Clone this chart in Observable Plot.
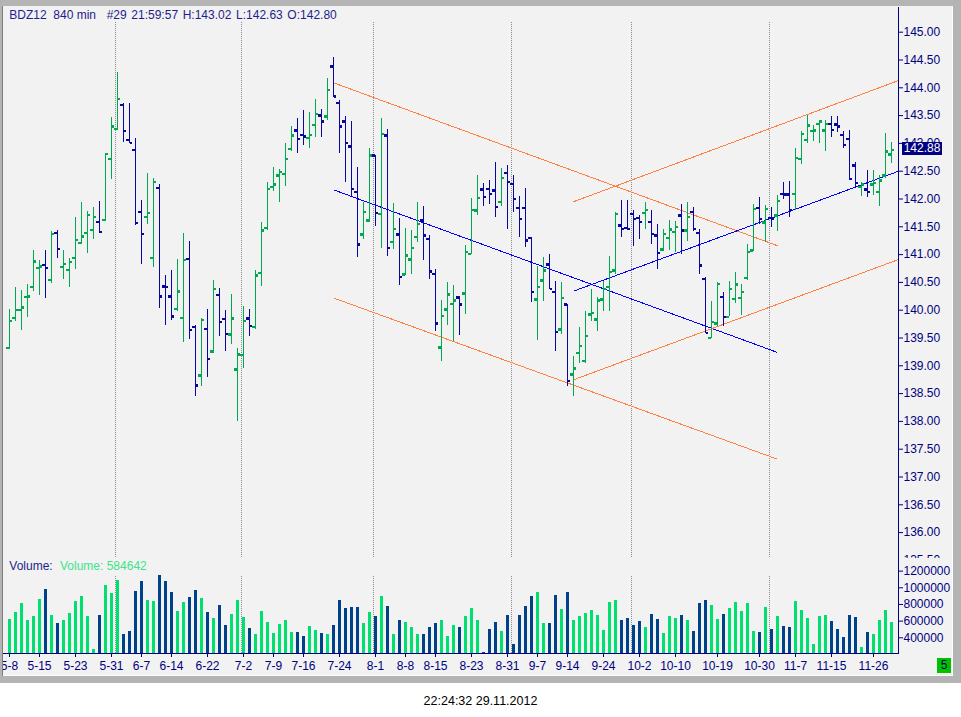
<!DOCTYPE html>
<html><head><meta charset="utf-8">
<script src="https://cdn.jsdelivr.net/npm/d3@7"></script>
<script src="https://cdn.jsdelivr.net/npm/@observablehq/plot@0.6"></script>
<style>
body{margin:0;width:961px;height:717px;background:#fff;position:relative;overflow:hidden;font-family:"Liberation Sans",Arial,sans-serif;}
#win{position:absolute;left:0;top:0;width:961px;height:683px;background:#b4b4b4;}
#edge{position:absolute;left:2px;top:6px;width:1px;height:670px;background:#7c7c7c;}
#area{position:absolute;left:3px;top:6px;width:949px;height:669px;background:#f2f2f2;overflow:hidden;border-right:1px solid #fdfdfd;border-bottom:1px solid #fdfdfd;}
#area svg{position:absolute;max-width:none !important;}
#last{position:absolute;width:40px;height:13px;background:#000080;color:#fff;font-size:12px;line-height:13px;text-align:center;}
#bars5{position:absolute;left:934px;top:652px;width:14px;height:15px;background:#00c000;color:#000050;font-size:12px;line-height:15px;text-align:center;}
#overlay{position:absolute;left:0;top:0;pointer-events:none;}
</style></head>
<body>
<div id="win"></div><div id="edge"></div>
<div id="area"></div>
<svg id="overlay" width="961" height="717" font-family="Liberation Sans, Arial, sans-serif" font-size="12"></svg>
<script>
// ---- data ----
const symbol = "BDZ12";
const period = "840 min";
const info = "#29 21:59:57 H:143.02 L:142.63 O:142.80";
const stamp = "22:24:32 29.11.2012";
const open  = [139.32,139.86,140.00,140.24,140.42,140.76,140.81,140.54,141.39,140.78,140.72,140.94,141.21,141.39,141.44,141.59,141.62,142.72,143.26,143.69,143.06,142.88,141.77,141.68,140.94,142.20,140.43,140.25,140.02,139.86,140.92,139.70,138.83,139.66,139.26,140.27,139.84,139.56,138.93,139.19,139.85,139.70,140.67,141.48,142.22,142.42,142.45,142.90,143.23,143.15,143.10,143.33,143.50,143.48,144.38,143.73,143.39,142.94,142.13,141.36,141.61,142.78,141.73,143.14,141.23,141.36,140.64,140.91,141.32,141.61,141.28,140.65,139.33,140.01,140.11,140.23,140.30,141.01,141.79,142.17,142.18,142.15,141.95,142.47,142.27,141.84,141.84,141.30,140.19,140.53,140.82,140.33,139.65,140.10,138.84,139.23,139.09,139.92,139.83,140.19,140.42,140.71,141.52,141.48,141.73,141.66,141.75,141.59,141.34,141.09,141.30,141.41,141.70,141.43,141.77,141.39,140.56,139.50,139.76,140.24,139.88,140.20,140.22,140.58,141.07,141.84,141.58,141.66,141.70,142.09,142.08,142.09,142.72,143.06,143.22,143.35,143.23,143.35,143.34,143.15,143.08,142.60,142.22,142.17,142.26,142.13,142.42,142.80];
const high  = [140.02,140.40,140.36,140.46,141.07,140.90,141.07,141.41,141.43,141.07,140.93,141.67,141.93,141.77,141.84,141.95,142.82,143.47,144.27,143.71,143.71,143.09,141.97,142.46,142.37,142.26,140.62,140.71,140.91,141.38,141.23,139.73,139.85,140.01,140.53,140.39,139.99,140.28,139.32,140.07,140.01,140.71,141.58,142.30,142.57,142.53,143.00,143.30,143.45,143.59,143.56,143.79,143.61,144.17,144.55,143.77,143.48,143.39,142.57,141.93,142.91,142.79,143.45,143.25,141.92,141.65,141.47,141.43,141.93,141.87,141.35,140.73,140.17,140.49,140.44,140.25,141.16,142.01,142.42,142.28,142.34,142.66,142.55,142.61,142.43,142.04,142.18,141.31,140.79,140.95,141.01,140.51,140.49,140.11,139.17,139.69,139.98,140.37,140.23,140.52,140.97,141.76,141.97,141.97,141.79,141.70,141.94,141.79,141.55,141.45,141.61,141.60,141.91,141.93,141.84,141.46,140.59,140.16,140.50,140.31,140.51,140.67,140.47,141.18,141.90,142.02,141.88,141.84,142.06,142.30,142.32,142.90,143.22,143.51,143.32,143.41,143.41,143.48,143.48,143.22,143.24,142.66,142.29,142.51,142.52,142.42,143.17,143.02];
const low   = [139.30,139.80,139.63,139.87,140.34,140.26,140.21,140.48,140.93,140.55,140.41,140.73,141.19,141.02,141.27,141.38,141.60,142.35,143.23,143.02,142.99,141.53,140.82,141.54,140.77,140.03,139.73,139.81,139.98,139.42,139.47,138.45,138.63,138.79,139.22,139.53,139.26,139.39,138.00,138.96,139.53,139.66,140.43,141.43,142.14,141.94,142.23,142.86,142.81,142.97,142.91,143.11,143.11,143.42,143.83,142.81,142.30,142.05,140.94,141.28,141.57,141.51,141.11,140.97,141.09,140.45,140.63,140.65,141.22,140.90,140.56,139.62,139.07,139.72,139.43,139.55,139.92,141.00,141.71,141.87,141.90,141.67,141.87,141.46,141.75,141.31,141.13,140.14,139.46,140.16,140.37,139.26,139.57,138.62,138.44,139.04,139.05,139.80,139.62,139.98,139.98,140.65,141.31,141.43,141.15,141.27,141.46,141.18,140.74,141.06,141.08,141.04,141.01,141.24,141.42,140.65,139.58,139.49,139.70,139.70,139.88,140.12,139.91,140.53,141.06,141.55,141.22,141.49,141.42,141.99,141.67,141.80,142.62,142.99,143.04,142.99,142.86,143.10,143.20,142.90,142.33,142.18,142.05,142.03,142.06,141.86,142.36,142.63];
const close = [139.81,140.00,140.05,140.25,140.88,140.79,140.76,141.37,141.10,140.83,140.87,141.26,141.33,141.71,141.68,141.41,142.81,143.30,143.80,143.22,143.01,141.57,141.37,141.75,142.31,140.25,140.42,139.89,140.34,140.90,139.64,138.65,139.82,139.12,140.38,139.79,139.57,139.85,139.20,139.81,139.72,140.62,141.43,142.18,142.26,142.49,142.72,143.14,143.08,143.12,143.15,143.53,143.39,143.96,143.84,143.30,143.01,142.18,141.18,141.77,142.78,141.75,143.17,141.12,141.46,140.60,140.98,141.12,141.55,141.34,140.70,139.76,139.90,140.28,140.17,140.10,141.05,141.80,142.02,142.04,142.09,141.86,142.38,142.31,142.00,141.64,141.25,140.33,140.42,140.71,140.38,139.61,140.22,138.73,138.95,139.36,139.54,139.95,140.17,140.38,140.69,141.73,141.46,141.46,141.64,141.59,141.80,141.37,141.03,141.37,141.45,141.50,141.43,141.68,141.46,140.80,139.59,139.79,140.47,139.88,140.38,140.46,140.33,141.05,141.82,141.64,141.82,141.64,141.96,142.08,141.80,142.74,143.17,143.32,143.23,143.39,143.35,143.24,143.30,142.97,142.36,142.29,142.26,142.13,142.29,142.33,142.85,142.88];
const volume = [620000,704000,812000,608000,656000,860000,980000,668000,572000,608000,692000,836000,896000,656000,260000,668000,1028000,932000,1088000,440000,476000,956000,1076000,848000,836000,1148000,1076000,944000,716000,824000,884000,968000,872000,704000,632000,788000,548000,680000,848000,644000,512000,440000,716000,584000,452000,560000,608000,464000,464000,416000,536000,488000,452000,440000,548000,848000,752000,764000,764000,572000,704000,656000,896000,776000,440000,608000,584000,524000,440000,440000,524000,572000,608000,416000,548000,524000,656000,752000,608000,224000,500000,584000,476000,668000,320000,668000,776000,896000,944000,572000,572000,908000,740000,944000,608000,656000,692000,728000,668000,488000,824000,848000,608000,632000,548000,596000,524000,680000,620000,452000,656000,632000,668000,608000,476000,812000,848000,788000,620000,680000,752000,824000,716000,812000,476000,464000,764000,500000,656000,536000,524000,836000,728000,632000,320000,656000,668000,596000,500000,404000,668000,644000,284000,464000,440000,608000,728000,584642];
const tickIndex = [0,5,11,17,22,27,33,39,44,49,55,61,66,71,77,83,88,93,99,105,111,118,125,131,137,144];
const tickLabel = ["5-8","5-15","5-23","5-31","6-7","6-14","6-22","7-2","7-9","7-16","7-24","8-1","8-8","8-15","8-23","8-31","9-7","9-14","9-24","10-2","10-10","10-19","10-30","11-7","11-15","11-26"];
const monthStart = [18,39,61,84,104,127];
const priceTicks = [135.5,136,136.5,137,137.5,138,138.5,139,139.5,140,140.5,141,141.5,142,142.5,143,143.5,144,144.5,145];
const volumeTicks = [400000,600000,800000,1000000,1200000];
// trend channels: start bar, start price, end bar, end price
const lineX1 = [54,54,54,94,94,94];
const lineY1 = [144.09,142.165,140.22,141.95,140.342,138.748];
const lineX2 = [128,128,128,148.17,148.17,148.17];
const lineY2 = [141.16,139.24,137.32,144.131,142.50,140.912];
const lineKind = ["edge","mid","edge","edge","mid","edge"];

// ---- styles ----
const UP = "#00a84f", DOWN = "#0808a0", VUP = "#00e070", VDOWN = "#00428a";
const ORANGE = "#ff8040", BLUE = "#0000ff", AXIS = "#000080";
const font = "Liberation Sans, Arial, sans-serif";
const crisp = "crispEdges";

const bars = open.map((o, i) => ({i, o, h: high[i], l: low[i], c: close[i], v: volume[i], up: close[i] >= o}));
const lines = lineX1.map((x1, k) => ({x1, y1: lineY1[k], x2: lineX2[k], y2: lineY2[k], color: lineKind[k] === "mid" ? BLUE : ORANGE}));
const labelOf = new Map(tickIndex.map((d, k) => [d, tickLabel[k]]));
const style = {background: "none", color: AXIS, fontFamily: font, fontSize: "12px", overflow: "hidden", maxWidth: "none"};

const price = Plot.plot({
  width: 961, height: 558,
  marginTop: 7, marginRight: 63, marginBottom: 0, marginLeft: 0,
  style,
  x: {domain: [0, 147], range: [9, 891], axis: null},
  y: {domain: [135.5, 145], range: [559.9, 31.7]},
  color: {type: "identity"},
  marks: [
    Plot.ruleX(monthStart, {x: d => d, dx: -2, insetTop: 15, stroke: "#8a8a8a", strokeDasharray: "1,1", shapeRendering: crisp}),
    Plot.link(lines, {x1: "x1", y1: "y1", x2: "x2", y2: "y2", stroke: "color", strokeWidth: 1, shapeRendering: crisp}),
    Plot.ruleX(bars, {x: "i", y1: "l", y2: "h", stroke: d => d.up ? UP : DOWN, strokeWidth: 1, shapeRendering: crisp}),
    Plot.ruleY(bars, {y: "o", x1: d => d.i - 0.4, x2: d => d.i, dx: -0.5, stroke: d => d.up ? UP : DOWN, strokeWidth: 2.5, shapeRendering: crisp}),
    Plot.ruleY(bars, {y: "c", x1: d => d.i + 1/6, x2: d => d.i + 0.56, dx: -0.5, stroke: d => d.up ? UP : DOWN, strokeWidth: 2.5, shapeRendering: crisp}),
    Plot.axisY({anchor: "right", ticks: priceTicks, tickSize: 4, tickPadding: 1, tickFormat: d => d.toFixed(2), label: null}),
    Plot.frame({anchor: "right"})
  ]
});

const vol = Plot.plot({
  width: 961, height: 118,
  marginTop: 0, marginRight: 63, marginBottom: 23, marginLeft: 0,
  style,
  x: {domain: [0, 147], range: [9, 891]},
  y: {domain: [400000, 1200000], range: [79.3, 12.63]},
  color: {type: "identity"},
  marks: [
    Plot.ruleX(monthStart, {x: d => d, dx: -2, insetTop: 18, stroke: "#8a8a8a", strokeDasharray: "1,1", shapeRendering: crisp}),
    Plot.ruleX(bars, {x: "i", y1: 0, y2: "v", stroke: d => d.up ? VUP : VDOWN, strokeWidth: 3, clip: true, shapeRendering: crisp}),
    Plot.axisY({anchor: "right", ticks: volumeTicks, tickSize: 4, tickPadding: 1, tickFormat: d => String(d), label: null}),
    Plot.axisX({ticks: tickIndex, tickSize: 4, tickPadding: 4, tickFormat: d => labelOf.get(d), label: null}),
    Plot.frame({anchor: "right"}),
    Plot.frame({anchor: "bottom"})
  ]
});

const area = document.getElementById("area");
price.style.left = "-3px"; price.style.top = "-6px";
vol.style.left = "-3px"; vol.style.top = "552px";
area.appendChild(price);
area.appendChild(vol);

// last price box on the price scale
const lastClose = close[close.length - 1];
const box = document.createElement("div");
box.id = "last";
box.textContent = lastClose.toFixed(2);
box.style.left = (902 - 3) + "px";
box.style.top = (price.scale("y").apply(lastClose) - 8 - 6) + "px";
area.appendChild(box);
const b5 = document.createElement("div");
b5.id = "bars5"; b5.textContent = "5";
area.appendChild(b5);

// texts
const ov = document.getElementById("overlay");
function addText(x, y, s, fill, extra) {
  const t = document.createElementNS("http://www.w3.org/2000/svg", "text");
  t.setAttribute("x", x); t.setAttribute("y", y); t.setAttribute("fill", fill);
  if (extra) for (const k in extra) t.setAttribute(k, extra[k]);
  t.textContent = s; ov.appendChild(t);
}
addText(9.3, 19, symbol, "#1e1e8c");
addText(53.3, 19, period, "#1e1e8c");
addText(106.7, 19, info, "#1e1e8c", {"word-spacing": "1.3"});
addText(9.3, 570, "Volume:", "#1e1e8c");
addText(60, 570, "Volume: " + volume[volume.length - 1], "#3ee38a");
addText(480.5, 705, stamp, "#000", {"text-anchor": "middle", "font-size": "12.5"});
</script>
</body></html>
